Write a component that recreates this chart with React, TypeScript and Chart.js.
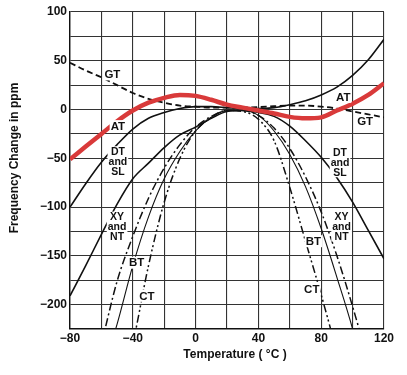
import React, { useEffect, useRef } from 'react';
import { Chart, registerables } from 'chart.js';

Chart.register(...registerables);

// Temperature samples (°C)
const temps = [-80, -70, -60, -50, -40, -30, -20, -10, 0, 10, 20, 30, 40, 50, 60, 70, 80, 90, 100, 110, 120];

// Frequency change (ppm) per crystal cut
const redAtValues = [-51, -38, -25, -12, -1, 7, 12, 15, 14, 10, 5, 2, -1, -4, -7.5, -9, -8, -1, 6, 15, 27];
const gtValues = [48, 40, 33, 25, 17, 11, 7, 4, 3, 2, 2, 2, 2.5, 3.5, 4, 4, 3, 1, -2, -5, -8];
const atValues = [-100, -76, -54, -36, -20, -9, -3, 1, 3, 3, 2, 1, 1, 2, 5, 9, 15, 23, 35, 51, 72];
const dtValues = [-191, -160, -128, -97, -71, -55, -39, -26, -18, -9, -2, -1, -3, -7, -17, -32, -49, -70, -95, -124, -153];
const xyValues = [-365, -300, -240, -176, -130, -91, -60, -36, -18, -7, -1, -1, -6, -19, -40, -69, -105, -150, -202, -260, -330];
const btValues = [-410, -335, -272, -220, -160, -110, -71, -43, -22, -8, -1, -1, -6, -22, -46, -79, -122, -172, -225, -290, -360];
const ctValues = [-590, -480, -380, -300, -240, -160, -95, -50, -22, -8, -1, -2, -10, -32, -80, -135, -190, -250, -320, -400, -480];

// Axis settings
const xMin = -80;
const xMax = 120;
const xGridStep = 20;
const xLabelStep = 40;
const yMin = -225;
const yMax = 100;
const yGridStep = 25;
const yLabelStep = 50;

const xTitle = 'Temperature ( °C )';
const yTitle = 'Frequency Change in ppm';

// Curve labels (in data coordinates)
const labelTexts = [['GT'], ['GT'], ['AT'], ['AT'], ['DT', 'and', 'SL'], ['DT', 'and', 'SL'], ['XY', 'and', 'NT'], ['XY', 'and', 'NT'], ['BT'], ['BT'], ['CT'], ['CT']];
const labelX = [-53, 108, -49.5, 94, -49.5, 92, -50, 93, -37.5, 75, -31, 74];
const labelY = [36, -12.5, -17, 13, -53, -54, -120, -120, -157, -135, -191, -184];

const FONT = "'Liberation Sans', Arial, Helvetica, sans-serif";

const overlayPlugin = {
  id: 'overlay',
  afterDatasetsDraw(chart: any) {
    const { ctx, chartArea } = chart;
    const xs = chart.scales.x;
    const ys = chart.scales.y;
    ctx.save();
    ctx.textAlign = 'center';
    ctx.textBaseline = 'middle';
    labelTexts.forEach((lines, i) => {
      const px = xs.getPixelForValue(labelX[i]);
      const py = ys.getPixelForValue(labelY[i]);
      const multi = lines.length > 1;
      ctx.font = `bold ${multi ? 10.5 : 11.5}px ${FONT}`;
      const lh = multi ? 10 : 12;
      const w = Math.max(...lines.map((t) => ctx.measureText(t).width));
      ctx.fillStyle = '#ffffff';
      ctx.fillRect(px - w / 2 - 1, py - (lines.length * lh) / 2, w + 2, lines.length * lh);
      ctx.fillStyle = '#111111';
      lines.forEach((t, k) => {
        ctx.fillText(t, px, py - ((lines.length - 1) * lh) / 2 + k * lh + 0.5);
      });
    });
    ctx.restore();

    // axis titles
    ctx.save();
    ctx.fillStyle = '#111111';
    ctx.font = `bold 12px ${FONT}`;
    ctx.textAlign = 'center';
    ctx.textBaseline = 'middle';
    ctx.fillText(xTitle, chartArea.left + 165, chartArea.bottom + 26);
    ctx.translate(chartArea.left - 55, chartArea.top + 146);
    ctx.rotate(-Math.PI / 2);
    ctx.fillText(yTitle, 0, 0);
    ctx.restore();
  },
};

function series(label: string, values: number[], color: string, width: number, dash: number[]) {
  return {
    label,
    data: temps.map((t, i) => ({ x: t, y: values[i] })),
    borderColor: color,
    backgroundColor: color,
    borderWidth: width,
    borderDash: dash,
    pointRadius: 0,
    pointHoverRadius: 0,
    fill: false,
    cubicInterpolationMode: 'monotone' as const,
  };
}

export default function App() {
  const canvasRef = useRef<HTMLCanvasElement | null>(null);

  useEffect(() => {
    if (!canvasRef.current) return;
    const fmt = (v: number) => String(v).replace('-', '\u2212');
    const chart = new Chart(canvasRef.current, {
      type: 'line',
      data: {
        datasets: [
          series('AT (red)', redAtValues, '#d93a3a', 4.5, []),
          series('GT', gtValues, '#111111', 1.8, [6, 3.5]),
          series('AT', atValues, '#111111', 1.6, []),
          series('DT and SL', dtValues, '#111111', 1.6, []),
          series('XY and NT', xyValues, '#111111', 1.5, [8, 3, 2, 3]),
          series('BT', btValues, '#111111', 1.1, []),
          series('CT', ctValues, '#111111', 1.5, [8, 3, 2, 2.5, 2, 3]),
        ] as any,
      },
      options: {
        animation: false,
        responsive: true,
        maintainAspectRatio: false,
        layout: { padding: { top: 12, right: 23, left: 0, bottom: 0 } },
        plugins: {
          legend: { display: false },
          tooltip: { enabled: false },
        },
        events: [],
        scales: {
          x: {
            type: 'linear',
            min: xMin,
            max: xMax,
            afterFit: (scale: any) => {
              scale.height = 46;
            },
            ticks: {
              stepSize: xGridStep,
              padding: 2,
              color: '#111111',
              font: { family: FONT, size: 12, weight: 'bold' },
              maxRotation: 0,
              autoSkip: false,
              callback: (v: any) => (Number(v) % xLabelStep === 0 ? fmt(Number(v)) : ''),
            },
            grid: { color: '#333333', lineWidth: 1.1, drawTicks: false },
            border: { color: '#111111', width: 1.4 },
          },
          y: {
            type: 'linear',
            min: yMin,
            max: yMax,
            afterFit: (scale: any) => {
              scale.width = 70;
            },
            ticks: {
              stepSize: yGridStep,
              padding: 3,
              color: '#111111',
              font: { family: FONT, size: 12, weight: 'bold' },
              autoSkip: false,
              callback: (v: any) => (Number(v) % yLabelStep === 0 ? fmt(Number(v)) : ''),
            },
            grid: { color: '#333333', lineWidth: 1.1, drawTicks: false },
            border: { color: '#111111', width: 1.4 },
          },
        },
      } as any,
      plugins: [overlayPlugin],
    });
    return () => chart.destroy();
  }, []);

  return (
    <div style={{ position: 'fixed', left: 0, top: 0, width: 407, height: 375, background: '#ffffff' }}>
      <canvas ref={canvasRef} />
    </div>
  );
}
